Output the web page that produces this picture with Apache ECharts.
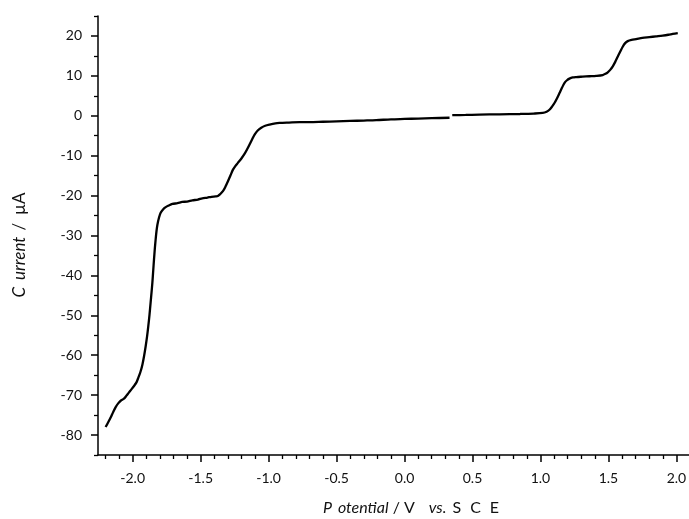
<!DOCTYPE html>
<html>
<head>
<meta charset="utf-8">
<script src="https://cdn.jsdelivr.net/npm/echarts@6/dist/echarts.min.js"></script>
<style>
html,body{margin:0;padding:0;background:#fff;}
#chart{width:689px;height:519px;}
</style>
</head>
<body>
<div id="chart"></div>
<script>
// Potential (V vs. SCE) and current (µA); null marks the break in the trace
const potential = [
  -2.199,-2.180,-2.162,-2.143,-2.125,-2.105,-2.088,-2.064,-2.045,-2.027,-2.008,-1.990,-1.972,-1.958,-1.943,-1.928,
  -1.916,-1.904,-1.894,-1.885,-1.876,-1.868,-1.861,-1.855,-1.849,-1.843,-1.837,-1.831,-1.825,-1.818,-1.806,-1.794,
  -1.775,-1.757,-1.735,-1.708,-1.670,-1.635,-1.600,-1.561,-1.520,-1.488,-1.450,-1.420,-1.390,-1.373,-1.355,-1.336,
  -1.318,-1.299,-1.280,-1.262,-1.245,-1.226,-1.200,-1.176,-1.158,-1.140,-1.120,-1.103,-1.080,-1.054,-1.025,-0.993,
  -0.950,-0.919,-0.850,-0.772,-0.700,-0.600,-0.500,-0.400,-0.300,-0.208,-0.100,0.000,0.100,0.200,0.331,
  0.341,
  0.351,0.450,0.550,0.699,0.850,0.950,1.017,1.045,1.066,1.085,1.103,1.122,1.140,1.158,1.176,1.195,1.213,1.237,
  1.263,1.310,1.360,1.410,1.458,1.478,1.495,1.513,1.532,1.550,1.568,1.587,1.605,1.623,1.642,1.670,1.704,1.750,
  1.801,1.850,1.899,1.940,1.973,2.010
];
const current = [
  -78.0,-76.8,-75.6,-74.2,-73.0,-72.0,-71.4,-70.9,-70.1,-69.3,-68.5,-67.7,-66.8,-65.6,-64.2,-62.3,
  -60.2,-57.7,-55.3,-52.7,-49.8,-46.8,-44.2,-41.8,-38.9,-36.0,-33.3,-31.0,-29.0,-27.3,-25.5,-24.3,
  -23.4,-22.9,-22.5,-22.1,-21.9,-21.6,-21.5,-21.2,-21.0,-20.7,-20.5,-20.3,-20.2,-20.1,-19.6,-18.9,
  -17.8,-16.4,-14.9,-13.5,-12.6,-11.8,-10.7,-9.5,-8.4,-7.2,-5.8,-4.7,-3.7,-3.0,-2.5,-2.2,
  -1.9,-1.8,-1.7,-1.6,-1.6,-1.5,-1.4,-1.3,-1.2,-1.1,-0.9,-0.8,-0.7,-0.6,-0.5,
  null,
  0.15,0.2,0.3,0.35,0.45,0.55,0.7,1.0,1.5,2.3,3.2,4.4,5.7,7.0,8.2,8.9,9.3,9.6,
  9.7,9.8,9.9,10.0,10.2,10.5,10.9,11.5,12.4,13.5,14.8,16.1,17.3,18.2,18.7,19.0,19.2,19.5,
  19.7,19.9,20.1,20.3,20.5,20.7
];
const xMajorTicks = [-2.0,-1.5,-1.0,-0.5,0.0,0.5,1.0,1.5,2.0];
const xMinorTicks = [-2.2,-2.1,-1.9,-1.8,-1.7,-1.6,-1.4,-1.3,-1.2,-1.1,-0.9,-0.8,-0.7,-0.6,-0.4,-0.3,-0.2,-0.1,
  0.1,0.2,0.3,0.4,0.6,0.7,0.8,0.9,1.1,1.2,1.3,1.4,1.6,1.7,1.8,1.9,2.1];
const yMajorTicks = [-80,-70,-60,-50,-40,-30,-20,-10,0,10,20];
const yMinorTicks = [-85,-75,-65,-55,-45,-35,-25,-15,-5,5,15,25];
const xMin = -2.255, xMax = 2.1, yMin = -85, yMax = 25;

const data = potential.map((v, i) => [v, current[i] === null ? '-' : current[i]]);

const FONT = 'Lato';
const axisColor = '#000';
const txt = '#111';
const chart = echarts.init(document.getElementById('chart'), null, {renderer: 'canvas'});
chart.setOption({
  animation: false,
  backgroundColor: '#fff',
  grid: {left: 98, top: 16, width: 592, height: 439, containLabel: false, outerBoundsMode: 'none'},
  xAxis: [
    {
      type: 'value', min: xMin, max: xMax,
      name: '{ip|P}{i|otential}{n| / V}{iv|vs.}{s|S}{s|C}{n|E}',
      nameLocation: 'middle', nameGap: 45,
      nameTextStyle: {padding: [0, 0, 0, 34], rich: {
        ip: {fontFamily: FONT, fontStyle: 'italic', fontSize: 16, color: txt, padding: [0, 6, 0, 0]},
        i: {fontFamily: FONT, fontStyle: 'italic', fontSize: 16, color: txt},
        iv: {fontFamily: FONT, fontStyle: 'italic', fontSize: 16, color: txt, padding: [0, 6, 0, 14]},
        s: {fontFamily: FONT, fontSize: 16, color: txt, padding: [0, 9, 0, 0]},
        n: {fontFamily: FONT, fontSize: 16, color: txt}
      }},
      axisLine: {show: true, onZero: false, lineStyle: {color: axisColor, width: 1.5}},
      axisTick: {show: true, inside: false, length: 7, lineStyle: {color: axisColor, width: 1.5}, customValues: xMajorTicks},
      axisLabel: {customValues: xMajorTicks, margin: 16, fontFamily: FONT, fontSize: 14, color: txt,
        formatter: v => v.toFixed(1)},
      splitLine: {show: false}
    },
    {
      type: 'value', min: xMin, max: xMax, position: 'bottom',
      axisLine: {show: false, onZero: false},
      axisTick: {show: true, inside: false, length: 4, lineStyle: {color: axisColor, width: 1.3}, customValues: xMinorTicks},
      axisLabel: {show: false},
      splitLine: {show: false}
    }
  ],
  yAxis: [
    {
      type: 'value', min: yMin, max: yMax,
      name: '{ic|C}{i|urrent}{ns|/}{n|µA}',
      nameLocation: 'middle', nameGap: 70, nameRotate: 90,
      nameTextStyle: {padding: [0, 19, 0, 0], rich: {
        ic: {fontFamily: FONT, fontStyle: 'italic', fontSize: 17, color: txt, padding: [0, 7, 0, 0]},
        i: {fontFamily: FONT, fontStyle: 'italic', fontSize: 17, color: txt},
        ns: {fontFamily: FONT, fontSize: 17, color: txt, padding: [0, 8, 0, 6]},
        n: {fontFamily: FONT, fontSize: 17, color: txt}
      }},
      axisLine: {show: true, onZero: false, lineStyle: {color: axisColor, width: 1.5}},
      axisTick: {show: true, inside: false, length: 7, lineStyle: {color: axisColor, width: 1.5}, customValues: yMajorTicks},
      axisLabel: {customValues: yMajorTicks, margin: 16, fontFamily: FONT, fontSize: 14, color: txt},
      splitLine: {show: false}
    },
    {
      type: 'value', min: yMin, max: yMax, position: 'left',
      axisLine: {show: false, onZero: false},
      axisTick: {show: true, inside: false, length: 4, lineStyle: {color: axisColor, width: 1.3}, customValues: yMinorTicks},
      axisLabel: {show: false},
      splitLine: {show: false}
    }
  ],
  series: [{
    type: 'line',
    xAxisIndex: 0, yAxisIndex: 0,
    data: data,
    showSymbol: false,
    connectNulls: false,
    smooth: 0.3,
    lineStyle: {color: '#000', width: 2.3},
    clip: false
  }]
});
</script>
</body>
</html>
